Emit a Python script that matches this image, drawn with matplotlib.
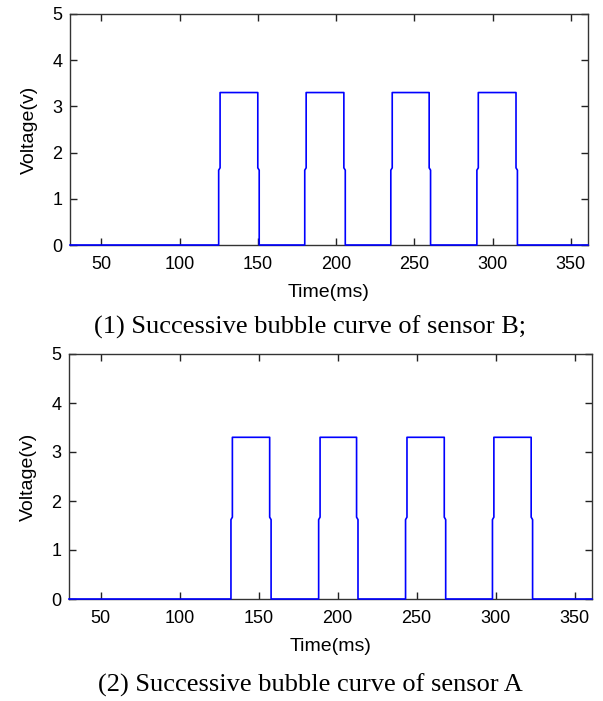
import matplotlib
matplotlib.use("Agg")
import matplotlib.pyplot as plt
import numpy as np

# pulse edges (ms)
RISE_B = [125, 180, 235, 290]
FALL_B = [150, 205, 259.5, 315]
RISE_A = [132.5, 188, 243, 298]
FALL_A = [157, 212, 267.5, 322.5]
HIGH = 3.3
MID = 1.62
T_START, T_END = 30, 361
XTICKS = [50, 100, 150, 200, 250, 300, 350]
YTICKS = [0, 1, 2, 3, 4, 5]
CAPTIONS = ["(1) Successive bubble curve of sensor B;",
            "(2) Successive bubble curve of sensor A"]

STEP = 0.9  # small lag of the half-level sample on each edge


def waveform(rises, falls):
    xs, ys = [T_START], [0]
    for r, f in zip(rises, falls):
        xs += [r, r, r + STEP, r + STEP, f, f, f + STEP, f + STEP]
        ys += [0, MID, MID + 0.05, HIGH, HIGH, MID + 0.05, MID, 0]
    xs.append(T_END)
    ys.append(0)
    return np.array(xs), np.array(ys)


def style_axes(ax):
    ax.set_xlim(T_START, T_END)
    ax.set_ylim(0, 5)
    ax.set_xticks(XTICKS)
    ax.set_yticks(YTICKS)
    ax.tick_params(direction="in", top=True, right=True, length=5,
                   width=1, labelsize=13, colors="#222222",
                   labelcolor="black", pad=5.5)
    ax.tick_params(axis="x", pad=8)
    for sp in ax.spines.values():
        sp.set_color("#333333")
        sp.set_linewidth(1)
    ax.set_xlabel("Time(ms)", fontsize=14, labelpad=8)
    ax.set_ylabel("Voltage(v)", fontsize=14, labelpad=10.5)


plt.rcParams["font.family"] = ["Liberation Sans", "DejaVu Sans"]
fig = plt.figure(figsize=(6.03, 7.01), dpi=100)

W, H = 603, 701
panels = [
    ((70, 14, 588, 245), RISE_B, FALL_B, 327),
    ((69, 354, 592, 599), RISE_A, FALL_A, 685),
]
for (l, t, r, b), rises, falls, cap_y in panels:
    ax = fig.add_axes([l / W, 1 - b / H, (r - l) / W, (b - t) / H])
    x, y = waveform(rises, falls)
    ax.plot(x, y, color="#0000ff", linewidth=1.2, clip_on=False, zorder=3)
    style_axes(ax)

for cap, (_, _, _, cy) in zip(CAPTIONS, panels):
    fig.text(310 / W, 1 - cy / H, cap, ha="center", va="center",
             fontsize=19, family=["Liberation Serif", "DejaVu Serif"])

fig.savefig("out.png", dpi=100)
